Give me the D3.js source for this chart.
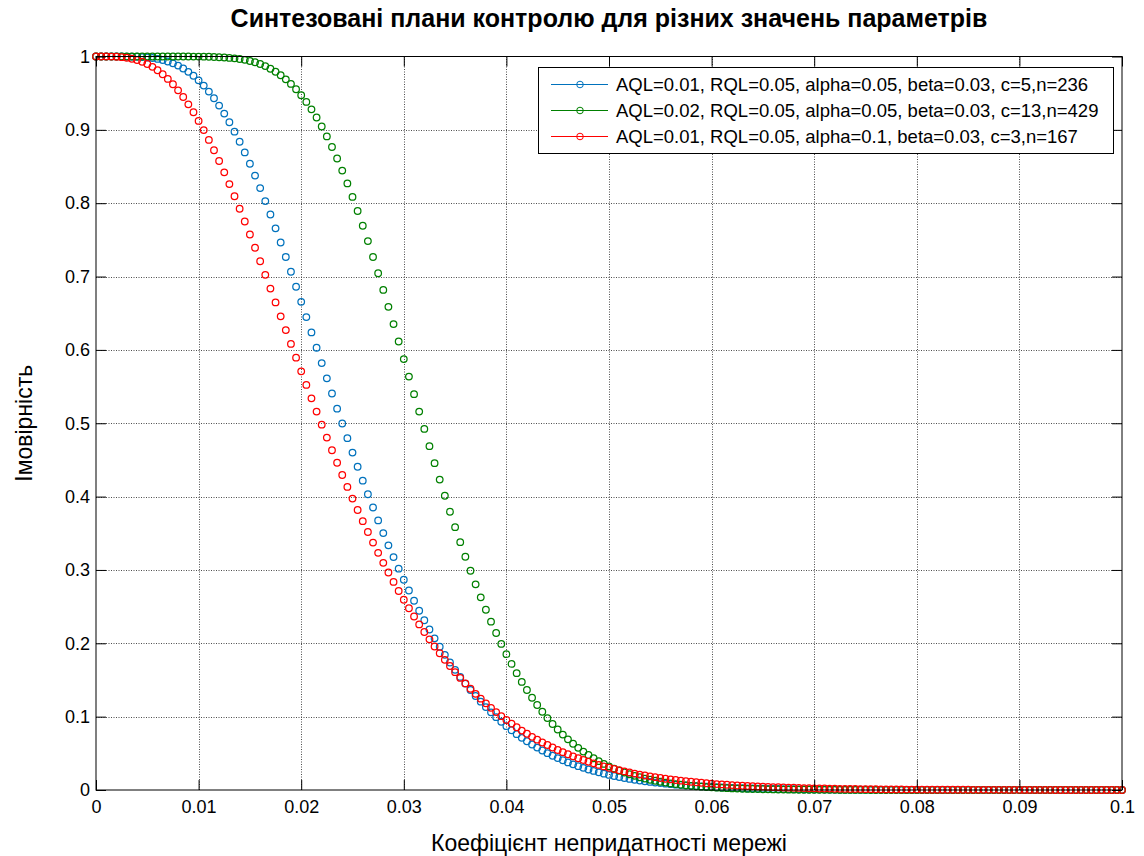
<!DOCTYPE html>
<html>
<head>
<meta charset="utf-8">
<script src="https://cdn.jsdelivr.net/npm/d3@7/dist/d3.min.js"></script>
<style>
  body { margin: 0; background: #fff; }
  text { font-family: "Liberation Sans", Arial, Helvetica, sans-serif; fill: #000; }
</style>
</head>
<body>
<div id="drawing"></div>
<script>
// defect rate of the network (x) and acceptance probability of each plan (y)
const defectRate = [
  0, 0.0005, 0.001, 0.0015, 0.002, 0.0025, 0.003, 0.0035, 0.004, 0.0045,
  0.005, 0.0055, 0.006, 0.0065, 0.007, 0.0075, 0.008, 0.0085, 0.009, 0.0095,
  0.010, 0.0105, 0.011, 0.0115, 0.012, 0.0125, 0.013, 0.0135, 0.014, 0.0145,
  0.015, 0.0155, 0.016, 0.0165, 0.017, 0.0175, 0.018, 0.0185, 0.019, 0.0195,
  0.020, 0.0205, 0.021, 0.0215, 0.022, 0.0225, 0.023, 0.0235, 0.024, 0.0245,
  0.025, 0.0255, 0.026, 0.0265, 0.027, 0.0275, 0.028, 0.0285, 0.029, 0.0295,
  0.030, 0.0305, 0.031, 0.0315, 0.032, 0.0325, 0.033, 0.0335, 0.034, 0.0345,
  0.035, 0.0355, 0.036, 0.0365, 0.037, 0.0375, 0.038, 0.0385, 0.039, 0.0395,
  0.040, 0.0405, 0.041, 0.0415, 0.042, 0.0425, 0.043, 0.0435, 0.044, 0.0445,
  0.045, 0.0455, 0.046, 0.0465, 0.047, 0.0475, 0.048, 0.0485, 0.049, 0.0495,
  0.050, 0.0505, 0.051, 0.0515, 0.052, 0.0525, 0.053, 0.0535, 0.054, 0.0545,
  0.055, 0.0555, 0.056, 0.0565, 0.057, 0.0575, 0.058, 0.0585, 0.059, 0.0595,
  0.060, 0.0605, 0.061, 0.0615, 0.062, 0.0625, 0.063, 0.0635, 0.064, 0.0645,
  0.065, 0.0655, 0.066, 0.0665, 0.067, 0.0675, 0.068, 0.0685, 0.069, 0.0695,
  0.070, 0.0705, 0.071, 0.0715, 0.072, 0.0725, 0.073, 0.0735, 0.074, 0.0745,
  0.075, 0.0755, 0.076, 0.0765, 0.077, 0.0775, 0.078, 0.0785, 0.079, 0.0795,
  0.080, 0.0805, 0.081, 0.0815, 0.082, 0.0825, 0.083, 0.0835, 0.084, 0.0845,
  0.085, 0.0855, 0.086, 0.0865, 0.087, 0.0875, 0.088, 0.0885, 0.089, 0.0895,
  0.090, 0.0905, 0.091, 0.0915, 0.092, 0.0925, 0.093, 0.0935, 0.094, 0.0945,
  0.095, 0.0955, 0.096, 0.0965, 0.097, 0.0975, 0.098, 0.0985, 0.099, 0.0995,
  0.100
];

// c=5, n=236
const planC5 = [
  1, 1, 1, 1, 1, 1, 0.9999, 0.9998, 0.9996, 0.9992,
  0.9987, 0.9979, 0.9967, 0.9952, 0.9932, 0.9907, 0.9876, 0.9837, 0.9791, 0.9737,
  0.9675, 0.9603, 0.9522, 0.9431, 0.9331, 0.9222, 0.9103, 0.8975, 0.8838, 0.8692,
  0.8538, 0.8376, 0.8206, 0.8029, 0.7846, 0.7657, 0.7464, 0.7266, 0.7066, 0.6861,
  0.6655, 0.6447, 0.6238, 0.6029, 0.5820, 0.5612, 0.5405, 0.5199, 0.4997, 0.4797,
  0.4600, 0.4407, 0.4217, 0.4032, 0.3851, 0.3675, 0.3503, 0.3336, 0.3175, 0.3018,
  0.2866, 0.2720, 0.2580, 0.2444, 0.2314, 0.2188, 0.2068, 0.1953, 0.1843, 0.1738,
  0.1638, 0.1542, 0.1451, 0.1364, 0.1282, 0.1204, 0.1130, 0.1059, 0.0993, 0.0930,
  0.0870, 0.0814, 0.0761, 0.0711, 0.0664, 0.0620, 0.0578, 0.0539, 0.0502, 0.0467,
  0.0435, 0.0405, 0.0376, 0.0350, 0.0325, 0.0302, 0.0280, 0.0260, 0.0241, 0.0223,
  0.0206, 0.0191, 0.0177, 0.0163, 0.0151, 0.0139, 0.0129, 0.0119, 0.0110, 0.0101,
  0.0094, 0.0086, 0.0080, 0.0073, 0.0068, 0.0062, 0.0057, 0.0053, 0.0049, 0.0045,
  0.0041, 0.0037, 0.0034, 0.0031, 0.0029, 0.0026, 0.0024, 0.0022, 0.0020, 0.0018,
  0.0017, 0.0015, 0.0014, 0.0013, 0.0012, 0.0011, 0.0010, 0.0009, 0.0008, 0.0007,
  0.0007, 0.0006, 0.0006, 0.0005, 0.0005, 0.0004, 0.0004, 0.0004, 0.0003, 0.0003,
  0.0003, 0.0002, 0.0002, 0.0002, 0.0002, 0.0002, 0.0002, 0.0001, 0.0001, 0.0001,
  0.0001, 0.0001, 0.0001, 0.0001, 0.0001, 0, 0, 0, 0, 0,
  0, 0, 0, 0, 0, 0, 0, 0, 0, 0,
  0, 0, 0, 0, 0, 0, 0, 0, 0, 0,
  0, 0, 0, 0, 0, 0, 0, 0, 0, 0,
  0
];

// c=13, n=429
const planC13 = [
  1, 1, 1, 1, 1, 1, 1, 1, 1, 1,
  1, 1, 1, 1, 1, 1, 1, 1, 1, 0.9999,
  0.9999, 0.9998, 0.9996, 0.9993, 0.9990, 0.9986, 0.9981, 0.9975, 0.9966, 0.9954,
  0.9939, 0.9921, 0.9898, 0.9869, 0.9833, 0.9792, 0.9744, 0.9689, 0.9626, 0.9554,
  0.9472, 0.9381, 0.9280, 0.9168, 0.9046, 0.8911, 0.8766, 0.8610, 0.8445, 0.8270,
  0.8086, 0.7893, 0.7692, 0.7483, 0.7267, 0.7045, 0.6818, 0.6587, 0.6352, 0.6115,
  0.5875, 0.5636, 0.5397, 0.5159, 0.4923, 0.4688, 0.4456, 0.4232, 0.4011, 0.3794,
  0.3583, 0.3379, 0.3180, 0.2989, 0.2804, 0.2627, 0.2457, 0.2295, 0.2140, 0.1992,
  0.1852, 0.1719, 0.1593, 0.1474, 0.1363, 0.1258, 0.1159, 0.1067, 0.0980, 0.0900,
  0.0825, 0.0755, 0.0691, 0.0631, 0.0575, 0.0524, 0.0477, 0.0433, 0.0393, 0.0356,
  0.0323, 0.0292, 0.0264, 0.0238, 0.0215, 0.0193, 0.0174, 0.0156, 0.0140, 0.0126,
  0.0113, 0.0101, 0.0090, 0.0081, 0.0072, 0.0064, 0.0057, 0.0051, 0.0045, 0.0040,
  0.0036, 0.0032, 0.0028, 0.0025, 0.0022, 0.0019, 0.0017, 0.0015, 0.0013, 0.0012,
  0.0010, 0.0009, 0.0008, 0.0007, 0.0006, 0.0005, 0.0005, 0.0004, 0.0004, 0.0003,
  0.0003, 0.0002, 0.0002, 0.0002, 0.0002, 0.0001, 0.0001, 0.0001, 0.0001, 0.0001,
  0.0001, 0, 0, 0, 0, 0, 0, 0, 0, 0,
  0, 0, 0, 0, 0, 0, 0, 0, 0, 0,
  0, 0, 0, 0, 0, 0, 0, 0, 0, 0,
  0, 0, 0, 0, 0, 0, 0, 0, 0, 0,
  0, 0, 0, 0, 0, 0, 0, 0, 0, 0,
  0
];

// c=3, n=167
const planC3 = [
  1, 1, 1, 0.9999, 0.9996, 0.9991, 0.9983, 0.9970, 0.9952, 0.9928,
  0.9898, 0.9859, 0.9813, 0.9758, 0.9694, 0.9621, 0.9539, 0.9448, 0.9348, 0.9240,
  0.9122, 0.8997, 0.8863, 0.8722, 0.8575, 0.8421, 0.8261, 0.8095, 0.7925, 0.7751,
  0.7573, 0.7392, 0.7209, 0.7023, 0.6836, 0.6647, 0.6458, 0.6270, 0.6082, 0.5894,
  0.5708, 0.5523, 0.5340, 0.5159, 0.4981, 0.4805, 0.4632, 0.4462, 0.4295, 0.4132,
  0.3973, 0.3817, 0.3665, 0.3517, 0.3373, 0.3233, 0.3097, 0.2965, 0.2837, 0.2713,
  0.2594, 0.2478, 0.2366, 0.2258, 0.2154, 0.2054, 0.1957, 0.1865, 0.1775, 0.1690,
  0.1607, 0.1528, 0.1453, 0.1380, 0.1311, 0.1245, 0.1181, 0.1120, 0.1062, 0.1007,
  0.0954, 0.0904, 0.0856, 0.0810, 0.0767, 0.0725, 0.0686, 0.0648, 0.0613, 0.0579,
  0.0546, 0.0516, 0.0487, 0.0459, 0.0433, 0.0409, 0.0385, 0.0363, 0.0342, 0.0322,
  0.0303, 0.0286, 0.0269, 0.0253, 0.0238, 0.0224, 0.0210, 0.0198, 0.0186, 0.0175,
  0.0164, 0.0154, 0.0145, 0.0136, 0.0127, 0.0120, 0.0112, 0.0105, 0.0099, 0.0092,
  0.0087, 0.0081, 0.0076, 0.0071, 0.0067, 0.0062, 0.0058, 0.0055, 0.0051, 0.0048,
  0.0045, 0.0042, 0.0039, 0.0037, 0.0034, 0.0032, 0.0030, 0.0028, 0.0026, 0.0024,
  0.0023, 0.0021, 0.0020, 0.0019, 0.0017, 0.0016, 0.0015, 0.0014, 0.0013, 0.0012,
  0.0011, 0.0011, 0.0010, 0.0009, 0.0008, 0.0008, 0.0007, 0.0007, 0.0006, 0.0006,
  0.0006, 0.0005, 0.0005, 0.0004, 0.0004, 0.0004, 0.0004, 0.0003, 0.0003, 0.0003,
  0.0003, 0.0002, 0.0002, 0.0002, 0.0002, 0.0002, 0.0002, 0.0002, 0.0001, 0.0001,
  0.0001, 0.0001, 0.0001, 0.0001, 0.0001, 0.0001, 0.0001, 0, 0, 0,
  0, 0, 0, 0, 0, 0, 0, 0, 0, 0,
  0
];

const seriesNames = [
  "AQL=0.01, RQL=0.05, alpha=0.05, beta=0.03, c=5,n=236",
  "AQL=0.02, RQL=0.05, alpha=0.05, beta=0.03, c=13,n=429",
  "AQL=0.01, RQL=0.05, alpha=0.1, beta=0.03, c=3,n=167"
];
const seriesValues = [planC5, planC13, planC3];
const seriesColors = ["#0072bd", "#008000", "#ff0000"];

const xTicks = [0, 0.01, 0.02, 0.03, 0.04, 0.05, 0.06, 0.07, 0.08, 0.09, 0.1];
const xTickLabels = ["0", "0.01", "0.02", "0.03", "0.04", "0.05", "0.06", "0.07", "0.08", "0.09", "0.1"];
const yTicks = [0, 0.1, 0.2, 0.3, 0.4, 0.5, 0.6, 0.7, 0.8, 0.9, 1];
const yTickLabels = ["0", "0.1", "0.2", "0.3", "0.4", "0.5", "0.6", "0.7", "0.8", "0.9", "1"];

const titleText = "Синтезовані плани контролю для різних значень параметрів";
const xLabelText = "Коефіцієнт непридатності мережі";
const yLabelText = "Імовірність";

// page and axes box
const W = 1144, H = 856;
const boxLeft = 96, boxRight = 1122, boxTop = 56.5, boxBottom = 790;
const tickLen = 10;
const tickFont = 18;
const legendFont = 18.5;
const labelFont = 23;
const markerR = 3.3;

var svg = d3.select("#drawing").append("svg")
    .attr("width", W)
    .attr("height", H);

svg.append("rect")
    .attr("width", W).attr("height", H)
    .attr("fill", "#fff");

var x = d3.scaleLinear().domain([0, 0.1]).range([boxLeft, boxRight]);
var y = d3.scaleLinear().domain([0, 1]).range([boxBottom, boxTop]);

// dotted grid
var grid = svg.append("g")
    .attr("stroke", "#4d4d4d")
    .attr("stroke-width", 1)
    .attr("stroke-dasharray", "1,1.5");

grid.selectAll("line.vx")
    .data(xTicks.slice(1, -1))
    .enter().append("line")
    .attr("class", "vx")
    .attr("x1", function (d) { return Math.round(x(d)) + 0.5; })
    .attr("x2", function (d) { return Math.round(x(d)) + 0.5; })
    .attr("y1", boxTop).attr("y2", boxBottom);

grid.selectAll("line.hy")
    .data(yTicks.slice(1, -1))
    .enter().append("line")
    .attr("class", "hy")
    .attr("y1", function (d) { return Math.round(y(d)) + 0.5; })
    .attr("y2", function (d) { return Math.round(y(d)) + 0.5; })
    .attr("x1", boxLeft).attr("x2", boxRight);

// markers only, one group per plan (red drawn last, on top)
seriesValues.forEach(function (vals, s) {
    var pts = defectRate.map(function (p, i) { return { p: p, v: vals[i] }; });
    svg.append("g")
        .attr("fill", "none")
        .attr("stroke", seriesColors[s])
        .attr("stroke-width", 1.25)
        .selectAll("circle")
        .data(pts)
        .enter().append("circle")
        .attr("cx", function (d) { return x(d.p); })
        .attr("cy", function (d) { return y(d.v); })
        .attr("r", markerR);
});

// axes: ticks pointing inwards on all four sides
function styleAxis(g) {
    g.select(".domain").remove();
    g.selectAll(".tick line").attr("stroke", "#000");
    g.selectAll("text")
        .attr("font-family", "Liberation Sans, Arial, sans-serif")
        .attr("font-size", tickFont)
        .attr("fill", "#000");
}

svg.append("g")
    .attr("transform", "translate(0," + boxBottom + ")")
    .call(d3.axisBottom(x).tickValues(xTicks)
        .tickFormat(function (d, i) { return xTickLabels[i]; })
        .tickSizeInner(-tickLen).tickSizeOuter(0).tickPadding(10))
    .call(styleAxis);

svg.append("g")
    .attr("transform", "translate(" + boxLeft + ",0)")
    .call(d3.axisLeft(y).tickValues(yTicks)
        .tickFormat(function (d, i) { return yTickLabels[i]; })
        .tickSizeInner(-tickLen).tickSizeOuter(0).tickPadding(6))
    .call(styleAxis);

svg.append("g")
    .attr("transform", "translate(0," + boxTop + ")")
    .call(d3.axisTop(x).tickValues(xTicks).tickFormat("")
        .tickSizeInner(-tickLen).tickSizeOuter(0))
    .call(styleAxis);

svg.append("g")
    .attr("transform", "translate(" + boxRight + ",0)")
    .call(d3.axisRight(y).tickValues(yTicks).tickFormat("")
        .tickSizeInner(-tickLen).tickSizeOuter(0))
    .call(styleAxis);

svg.append("rect")
    .attr("x", boxLeft).attr("y", boxTop)
    .attr("width", boxRight - boxLeft).attr("height", boxBottom - boxTop)
    .attr("fill", "none")
    .attr("stroke", "#000")
    .attr("stroke-width", 1);

// titles
svg.append("text")
    .attr("x", (boxLeft + boxRight) / 2).attr("y", 27)
    .attr("text-anchor", "middle")
    .attr("font-weight", "bold")
    .attr("font-size", 25)
    .text(titleText);

svg.append("text")
    .attr("x", (boxLeft + boxRight) / 2).attr("y", 851)
    .attr("text-anchor", "middle")
    .attr("font-size", labelFont)
    .text(xLabelText);

svg.append("text")
    .attr("transform", "translate(31.5," + ((boxTop + boxBottom) / 2) + ") rotate(-90)")
    .attr("text-anchor", "middle")
    .attr("font-size", labelFont)
    .text(yLabelText);

// legend
var legend = svg.append("g");
legend.append("rect")
    .attr("x", 538.5).attr("y", 67.5)
    .attr("width", 575).attr("height", 86)
    .attr("fill", "#fff")
    .attr("stroke", "#000");

var rows = legend.selectAll("g.row")
    .data(seriesNames)
    .enter().append("g")
    .attr("class", "row")
    .attr("transform", function (d, i) { return "translate(0," + (84.5 + 26 * i) + ")"; });

rows.append("line")
    .attr("x1", 551).attr("x2", 608)
    .attr("stroke", function (d, i) { return seriesColors[i]; });

rows.append("circle")
    .attr("cx", 580).attr("r", markerR)
    .attr("fill", "none")
    .attr("stroke", function (d, i) { return seriesColors[i]; });

rows.append("text")
    .attr("x", 616).attr("dy", "0.35em")
    .attr("font-size", legendFont)
    .text(function (d) { return d; });
</script>
</body>
</html>
